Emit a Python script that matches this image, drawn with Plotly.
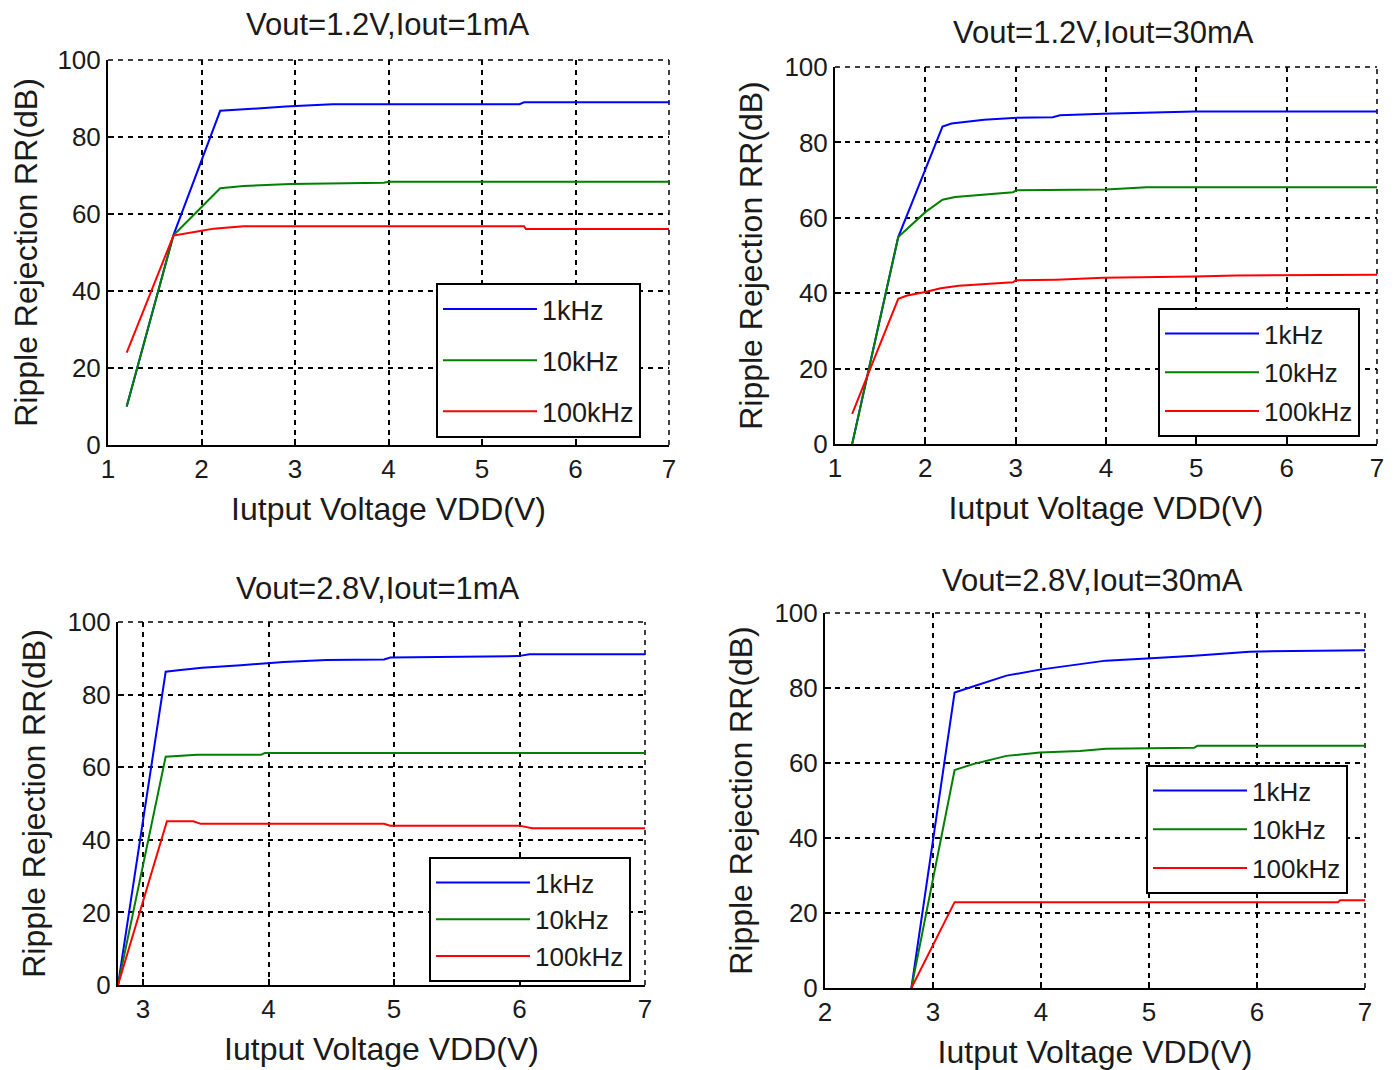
import plotly.graph_objects as go

# ---------------- data ----------------
series_names = ["1kHz", "10kHz", "100kHz"]
series_colors = ["#0000ff", "#008000", "#ff0000"]

titles = ["Vout=1.2V,Iout=1mA", "Vout=1.2V,Iout=30mA", "Vout=2.8V,Iout=1mA", "Vout=2.8V,Iout=30mA"]
x_label = "Iutput Voltage VDD(V)"
y_label = "Ripple Rejection RR(dB)"

# Panel 1: Vout=1.2V, Iout=1mA
p1_1k_x = [1.2, 1.7, 2.2, 2.45, 2.9, 3.4, 5.4, 5.45, 7.0]
p1_1k_y = [10, 54.5, 86.8, 87.2, 87.9, 88.5, 88.5, 89.0, 89.0]
p1_10k_x = [1.2, 1.7, 2.2, 2.45, 2.95, 3.95, 4.0, 7.0]
p1_10k_y = [10, 54.5, 66.7, 67.3, 67.8, 68.1, 68.4, 68.4]
p1_100k_x = [1.2, 1.7, 1.97, 2.13, 2.45, 5.45, 5.47, 7.0]
p1_100k_y = [24, 54.4, 55.5, 56.2, 56.8, 56.8, 56.1, 56.1]

# Panel 2: Vout=1.2V, Iout=30mA
p2_1k_x = [1.19, 1.7, 2.19, 2.29, 2.65, 2.97, 3.41, 3.49, 3.97, 4.98, 7.0]
p2_1k_y = [0, 54.9, 84.2, 85.0, 86.0, 86.5, 86.7, 87.2, 87.6, 88.2, 88.2]
p2_10k_x = [1.19, 1.7, 2.0, 2.19, 2.33, 2.65, 2.97, 3.01, 3.97, 4.0, 4.45, 7.0]
p2_10k_y = [0, 54.9, 61.5, 64.8, 65.5, 66.2, 66.8, 67.3, 67.3, 67.5, 68.1, 68.1]
p2_100k_x = [1.19, 1.7, 1.8, 2.0, 2.17, 2.37, 2.97, 3.0, 3.45, 3.97, 4.98, 5.44, 7.0]
p2_100k_y = [8.0, 38.5, 39.4, 40.3, 41.3, 42.0, 42.9, 43.4, 43.6, 44.1, 44.4, 44.7, 44.9]

# Panel 3: Vout=2.8V, Iout=1mA
p3_1k_x = [2.8, 3.18, 3.28, 3.47, 3.78, 3.98, 4.12, 4.46, 4.92, 4.97, 5.42, 5.99, 6.08, 7.0]
p3_1k_y = [0, 86.3, 86.7, 87.4, 88.1, 88.6, 89.0, 89.5, 89.7, 90.2, 90.4, 90.6, 91.1, 91.1]
p3_10k_x = [2.8, 3.18, 3.43, 3.94, 3.97, 7.0]
p3_10k_y = [0, 62.9, 63.4, 63.4, 63.9, 63.9]
p3_100k_x = [2.8, 3.19, 3.4, 3.46, 4.92, 4.97, 6.0, 6.1, 7.0]
p3_100k_y = [0, 45.1, 45.1, 44.4, 44.4, 43.9, 43.9, 43.2, 43.2]

# Panel 4: Vout=2.8V, Iout=30mA
p4_1k_x = [2.8, 3.2, 3.37, 3.68, 3.99, 4.36, 4.6, 4.98, 5.42, 5.93, 6.31, 7.0]
p4_1k_y = [0, 78.8, 80.4, 83.3, 84.9, 86.4, 87.3, 87.9, 88.6, 89.7, 89.9, 90.1]
p4_10k_x = [2.8, 3.2, 3.37, 3.68, 3.99, 4.36, 4.6, 5.42, 5.45, 7.0]
p4_10k_y = [0, 58.1, 59.7, 61.9, 62.8, 63.2, 63.8, 64.1, 64.6, 64.6]
p4_100k_x = [2.8, 3.2, 6.75, 6.77, 7.0]
p4_100k_y = [0, 22.9, 22.9, 23.4, 23.4]

panels = [
    [(p1_1k_x, p1_1k_y), (p1_10k_x, p1_10k_y), (p1_100k_x, p1_100k_y)],
    [(p2_1k_x, p2_1k_y), (p2_10k_x, p2_10k_y), (p2_100k_x, p2_100k_y)],
    [(p3_1k_x, p3_1k_y), (p3_10k_x, p3_10k_y), (p3_100k_x, p3_100k_y)],
    [(p4_1k_x, p4_1k_y), (p4_10k_x, p4_10k_y), (p4_100k_x, p4_100k_y)],
]
x_ranges = [[1, 7], [1, 7], [2.8, 7], [2, 7]]
x_ticks = [[1, 2, 3, 4, 5, 6, 7], [1, 2, 3, 4, 5, 6, 7], [3, 4, 5, 6, 7], [2, 3, 4, 5, 6, 7]]
y_ticks = [0, 20, 40, 60, 80, 100]

# ---------------- layout geometry (pixels) ----------------
W, H = 1398, 1070
OFF = 8  # page body margin: the figure is drawn 8px in from the window corner
# (left, right, top, bottom) of each plot area in window pixels
boxes = [(108, 669, 60, 445), (835, 1377, 67, 444), (118, 645, 622, 985), (825, 1365, 613, 988)]
title_pos = [(388, 25), (1103, 33), (378, 588), (1092, 580)]
legend_pos = [(436, 283), (1158, 308), (429, 857), (1146, 765)]
legend_gap = [13, 2, 0, 2]
legend_font = [27, 26, 26, 26]


def fx(px):
    return (px - OFF) / W


def fy(py):
    return 1 - (py - OFF) / H


FONT = "Liberation Sans, Arial, sans-serif"
TXT = "#1a1a1a"

fig = go.Figure()
for i, panel in enumerate(panels):
    xa = "x" if i == 0 else f"x{i+1}"
    ya = "y" if i == 0 else f"y{i+1}"
    lg = "legend" if i == 0 else f"legend{i+1}"
    for j, (xs, ys) in enumerate(panel):
        fig.add_trace(go.Scatter(
            x=xs, y=ys, mode="lines", name=series_names[j],
            line=dict(color=series_colors[j], width=2),
            xaxis=xa, yaxis=ya, legend=lg, legendgroup=f"g{i}_{j}",
        ))

layout = dict(
    width=W, height=H,
    margin=dict(l=0, r=0, t=0, b=0, autoexpand=False),
    paper_bgcolor="white", plot_bgcolor="white",
    font=dict(family=FONT, color=TXT, size=26),
    annotations=[], shapes=[],
)

for i in range(4):
    l, r, t, b = boxes[i]
    xk = "xaxis" if i == 0 else f"xaxis{i+1}"
    yk = "yaxis" if i == 0 else f"yaxis{i+1}"
    ya = "y" if i == 0 else f"y{i+1}"
    xa = "x" if i == 0 else f"x{i+1}"
    layout[xk] = dict(
        domain=[fx(l), fx(r)], anchor=ya, range=x_ranges[i],
        tickmode="array", tickvals=x_ticks[i], automargin=False,
        showgrid=True, gridcolor="black", gridwidth=1.5, griddash="5px,5px",
        showline=True, linecolor="black", linewidth=2, mirror=False,
        ticks="inside", ticklen=6, tickcolor="black", tickwidth=1.5,
        zeroline=False, tickfont=dict(size=26, family=FONT, color=TXT),
        title=dict(text=x_label, font=dict(size=32, family=FONT, color=TXT), standoff=14),
    )
    layout[yk] = dict(
        domain=[fy(b), fy(t)], anchor=xa, range=[0, 100],
        tickmode="array", tickvals=y_ticks, automargin=False,
        showgrid=True, gridcolor="black", gridwidth=1.5, griddash="5px,5px",
        showline=True, linecolor="black", linewidth=2, mirror=False,
        ticks="inside", ticklen=6, tickcolor="black", tickwidth=1.5,
        zeroline=False, tickfont=dict(size=26, family=FONT, color=TXT),
        title=dict(text=y_label, font=dict(size=32, family=FONT, color=TXT), standoff=12),
    )
    # dashed grid lines along the top and right edges of the plot box
    layout["shapes"].append(dict(
        type="line", xref=f"{xa} domain", yref=f"{ya} domain",
        x0=0, x1=1, y0=1, y1=1, layer="below",
        line=dict(color="black", width=1.5, dash="5px,5px"),
    ))
    layout["shapes"].append(dict(
        type="line", xref=f"{xa} domain", yref=f"{ya} domain",
        x0=1, x1=1, y0=0, y1=1, layer="below",
        line=dict(color="black", width=1.5, dash="5px,5px"),
    ))
    lx, ly = legend_pos[i]
    lk = "legend" if i == 0 else f"legend{i+1}"
    layout[lk] = dict(
        x=fx(lx), y=fy(ly), xanchor="left", yanchor="top",
        bgcolor="white", bordercolor="black", borderwidth=2,
        font=dict(size=legend_font[i], family=FONT, color=TXT),
        traceorder="grouped", tracegroupgap=legend_gap[i], itemwidth=94,
    )
    tx, ty = title_pos[i]
    layout["annotations"].append(dict(
        text=titles[i], x=fx(tx), y=fy(ty), xref="paper", yref="paper",
        xanchor="center", yanchor="middle", showarrow=False,
        font=dict(size=31, family=FONT, color=TXT),
    ))

fig.update_layout(**layout)
fig.write_html("out.html")
